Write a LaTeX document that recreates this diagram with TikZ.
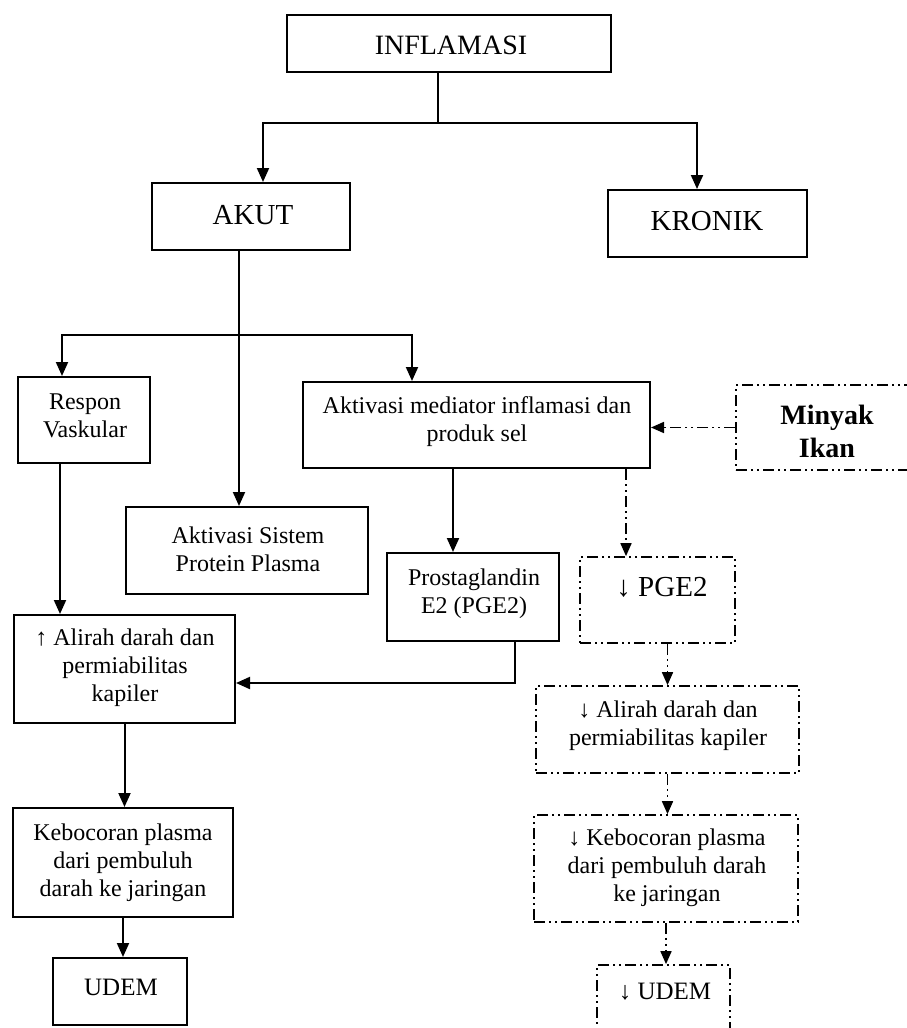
\documentclass[tikz,border=0pt]{standalone}
\usepackage{fontspec}
\setmainfont{Liberation Serif}
\usetikzlibrary{arrows.meta}

\tikzset{
  box/.style={draw, line width=2pt, inner sep=0pt},
  dashdotdot/.style={dash pattern=on 11pt off 4pt on 2pt off 4pt on 2pt off 4pt},
  ddbox/.style={draw, line width=1.7pt, inner sep=0pt, dashdotdot},
  lbl/.style={align=center, inner sep=0pt},
  txtA/.style={font=\fontsize{24}{28}\selectfont},
  txtB/.style={font=\fontsize{29}{33}\selectfont},
  wire/.style={line width=2pt},
  flow/.style={line width=2pt, -{Triangle[length=14pt,width=12pt]}},
  ddflow/.style={line width=1.7pt, dashdotdot, -{Triangle[length=13pt,width=11pt]}},
}

\begin{document}
\begin{tikzpicture}[x=1pt, y=-1pt]
\useasboundingbox (0,0) rectangle (907,1028);

% ---- boxes ----
\node[box, minimum width=324pt, minimum height=57pt] (infl) at (449,43.5) {};
\node[box, minimum width=198pt, minimum height=67pt] (akut) at (251,216.5) {};
\node[box, minimum width=199pt, minimum height=67pt] (kronik) at (707.5,223.5) {};
\node[box, minimum width=132pt, minimum height=86pt] (respon) at (84,420) {};
\node[box, minimum width=347pt, minimum height=86pt] (mediator) at (476.5,425) {};
\node[ddbox, minimum width=182pt, minimum height=85pt] (minyak) at (827,427.5) {};
\node[box, minimum width=242pt, minimum height=87pt] (sistem) at (247,550.5) {};
\node[box, minimum width=172pt, minimum height=88pt] (prosta) at (473,597) {};
\node[ddbox, minimum width=155pt, minimum height=86pt] (pged) at (657.5,600) {};
\node[box, minimum width=221pt, minimum height=108pt] (alirah) at (124.5,669) {};
\node[ddbox, minimum width=263pt, minimum height=87pt] (alirahd) at (667.5,729.5) {};
\node[box, minimum width=220pt, minimum height=109pt] (keboc) at (123,862.5) {};
\node[ddbox, minimum width=264pt, minimum height=107pt] (kebocd) at (666,868.5) {};
\node[box, minimum width=134pt, minimum height=67pt] (udem) at (120,991.5) {};
\node[ddbox, minimum width=133pt, minimum height=70pt] (udemd) at (663.5,1000) {};

% ---- labels ----
\node[lbl, font=\fontsize{28}{32}\selectfont] (infl-t) at (451,45) {INFLAMASI};
\node[lbl, txtB] (akut-t) at (253,215) {AKUT};
\node[lbl, txtB] (kronik-t) at (707,221) {KRONIK};
\node[lbl, txtA] (respon-t) at (85,416) {Respon\\Vaskular};
\node[lbl, txtA] (mediator-t) at (477,422) {Aktivasi mediator inflamasi dan\\produk sel};
\node[lbl, font=\bfseries\fontsize{28}{33}\selectfont] (minyak-t) at (827,431) {Minyak\\Ikan};
\node[lbl, txtA] (sistem-t) at (248,549) {Aktivasi Sistem\\Protein Plasma};
\node[lbl, txtA] (prosta-t) at (474,594) {Prostaglandin\\E2 (PGE2)};
\node[lbl, txtB] (pged-t) at (662,587) {↓ PGE2};
\node[lbl, txtA] (alirah-t) at (125,668) {↑ Alirah darah dan\\permiabilitas\\kapiler};
\node[lbl, txtA] (alirahd-t) at (668,726) {↓ Alirah darah dan\\permiabilitas kapiler};
\node[lbl, txtA] (keboc-t) at (123,863) {Kebocoran plasma\\dari pembuluh\\darah ke jaringan};
\node[lbl, txtA] (kebocd-t) at (667,868) {↓ Kebocoran plasma\\dari pembuluh darah\\ke jaringan};
\node[lbl, font=\fontsize{25}{29}\selectfont] (udem-t) at (121,987) {UDEM};
\node[lbl, font=\fontsize{25}{29}\selectfont] (udemd-t) at (665,992) {↓ UDEM};

% ---- solid connectors ----
\coordinate (j1) at (438,123);
\draw[wire] ([xshift=-11pt]infl.south) -- (j1);
\draw[flow] (j1) -| ([xshift=12pt]akut.north);
\draw[flow] (j1) -| ([xshift=-10.5pt]kronik.north);

\coordinate (j2) at (239,335);
\draw[wire] ([xshift=-12pt]akut.south) -- (j2);
\draw[flow] (j2) -- (j2 |- sistem.north);
\draw[flow] (j2) -| ([xshift=-22pt]respon.north);
\draw[flow] (j2) -| ([xshift=-64.5pt]mediator.north);

\coordinate (r-out) at ([xshift=-24pt]respon.south);
\draw[flow] (r-out) -- (r-out |- alirah.north);

\coordinate (m-out) at ([xshift=-23.5pt]mediator.south);
\draw[flow] (m-out) -- (m-out |- prosta.north);

\coordinate (p-out) at ([xshift=42pt]prosta.south);
\draw[flow] (p-out) |- ([yshift=-14pt]alirah.east);

\draw[flow] (alirah.south) -- (alirah.south |- keboc.north);
\draw[flow] (keboc.south) -- (keboc.south |- udem.north);

% ---- dash-dot connectors ----
\draw[ddflow] (minyak.west) -- (minyak.west -| mediator.east);
\coordinate (m-out2) at ([xshift=149.5pt]mediator.south);
\draw[ddflow] (m-out2) -- (m-out2 |- pged.north);
\draw[ddflow] (pged.south -| alirahd.north) -- (alirahd.north);
\draw[ddflow] (alirahd.south) -- (alirahd.south |- kebocd.north);
\draw[ddflow] (kebocd.south) -- (kebocd.south |- udemd.north);
\end{tikzpicture}
\end{document}
